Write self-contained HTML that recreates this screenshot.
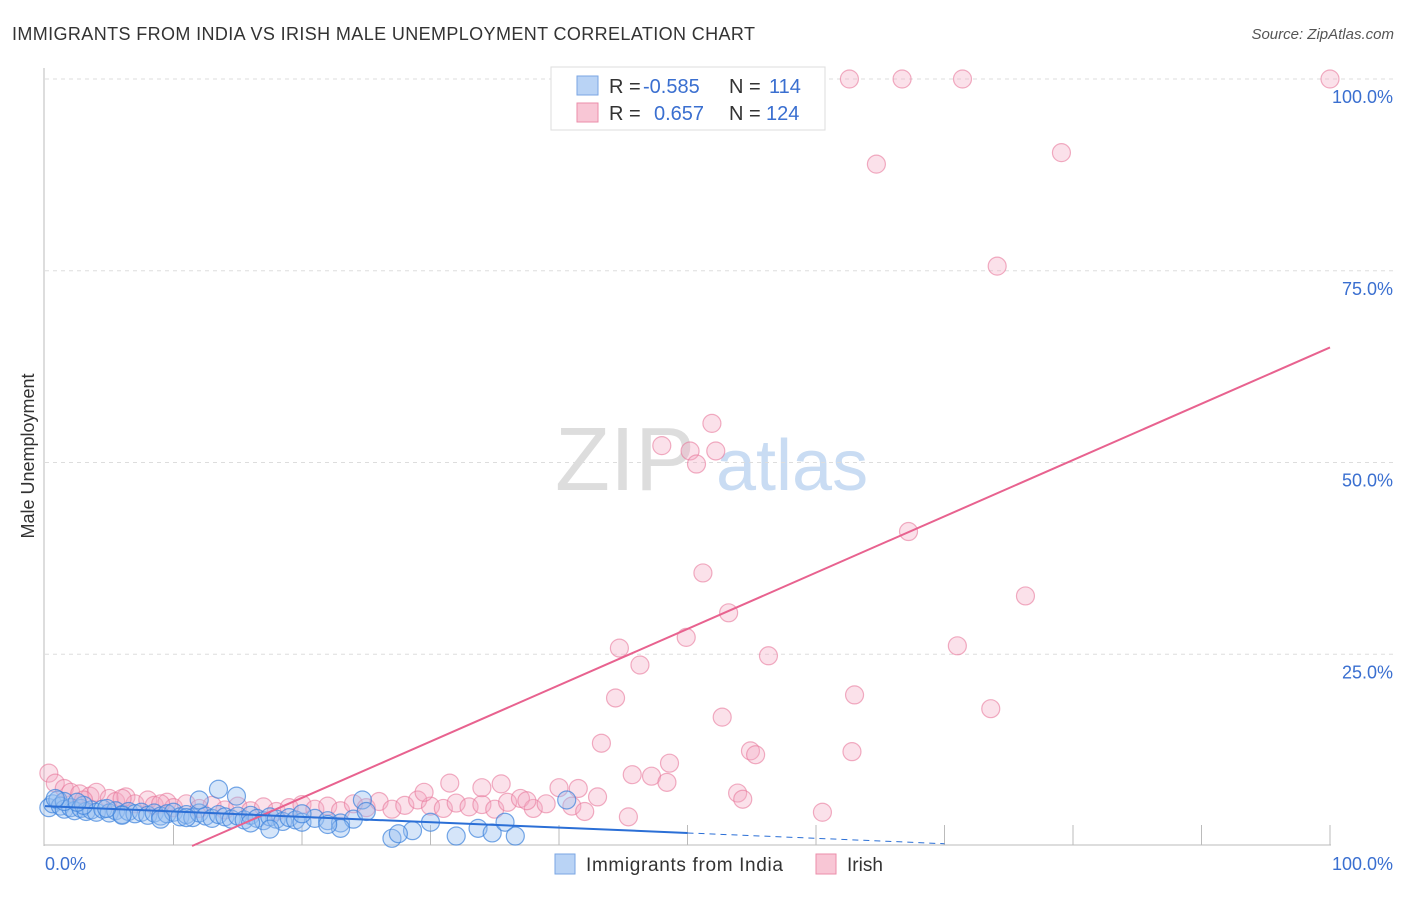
<!DOCTYPE html>
<html><head><meta charset="utf-8"><style>
body{margin:0;background:#fff;font-family:"Liberation Sans",sans-serif;}
svg text{font-family:"Liberation Sans",sans-serif;}
</style></head><body>
<svg id="chart" width="1406" height="892" xmlns="http://www.w3.org/2000/svg">
<text x="12" y="40" font-size="18" fill="#333" textLength="743">IMMIGRANTS FROM INDIA VS IRISH MALE UNEMPLOYMENT CORRELATION CHART</text>
<text x="1394" y="39" font-size="15" fill="#555" font-style="italic" text-anchor="end">Source: ZipAtlas.com</text>
<text x="34" y="456" font-size="18" fill="#333" text-anchor="middle" transform="rotate(-90 34 456)">Male Unemployment</text>
<g>
<text x="555" y="490" font-size="90" fill="#ddd" font-family="Liberation Serif,serif">ZIP</text>
<text x="716" y="490" font-size="72" fill="#c9dcf3">atlas</text>
</g>
<g id="grid"></g>
<g id="marks"></g>
<g id="legend-top">
<rect x="551" y="67" width="274" height="63" fill="#fff" stroke="#ddd"/>
<rect x="577" y="76" width="21" height="19" fill="#b9d3f5" stroke="#7aa6e3"/>
<rect x="577" y="103" width="21" height="19" fill="#f8c6d5" stroke="#eb8eaa"/>
<text x="609" y="93" font-size="20" fill="#333">R =</text>
<text x="643" y="93" font-size="20" fill="#3a6fd0">-0.585</text>
<text x="729" y="93" font-size="20" fill="#333">N =</text>
<text x="769" y="93" font-size="20" fill="#3a6fd0">114</text>
<text x="609" y="120" font-size="20" fill="#333">R =</text>
<text x="654" y="120" font-size="20" fill="#3a6fd0">0.657</text>
<text x="729" y="120" font-size="20" fill="#333">N =</text>
<text x="766" y="120" font-size="20" fill="#3a6fd0">124</text>
</g>
<g>
<rect x="555" y="854" width="20" height="20" fill="#b9d3f5" stroke="#7aa6e3"/>
<text x="586" y="871" font-size="19" fill="#333" textLength="197">Immigrants from India</text>
<rect x="816" y="854" width="20" height="20" fill="#f8c6d5" stroke="#eb8eaa"/>
<text x="847" y="871" font-size="19" fill="#333">Irish</text>
</g>
<text x="45" y="870" font-size="18" fill="#3a6fd0">0.0%</text>
<text x="1393" y="870" font-size="18" fill="#3a6fd0" text-anchor="end">100.0%</text>
</svg>
<script>
const yTicks=[25,50,75,100];
const yTickLabels=["25.0%","50.0%","75.0%","100.0%"];
const blueX=[0.3,0.6,1,1.2,1.5,2,2.3,2.8,3.2,3.6,4,4.5,5,5.5,6,6.5,7,7.5,8,8.5,9,9.5,10,10.5,11,11.5,12,12.5,13,13.5,14,14.5,15,15.5,16,16.5,17,17.5,18,18.5,19,19.5,20,21,22,23,24,24.7,12,14.9,13.5,27,28.6,27.5,30,32,33.7,34.8,35.8,36.6,40.6,23,17.5,1.5,3,6,9,11,16,20,22,25,0.8,2.5,4.8];
const blueY=[5,5.5,6,5.2,4.8,5,4.6,4.9,4.5,4.7,4.4,4.8,4.3,4.6,4.1,4.5,4.2,4.4,4,4.3,3.9,4.2,4.4,3.8,4.1,3.7,4.3,3.9,3.6,4.1,3.8,3.5,3.9,3.4,4,3.6,3.3,3.8,3.5,3.2,3.7,3.4,3.1,3.6,3.3,3,3.5,6,6,6.5,7.4,1,2,1.6,3.1,1.3,2.3,1.7,3.1,1.3,6,2.3,2.2,5.8,5.3,4,3.5,3.7,3,4.2,2.8,4.5,6.2,5.7,4.9];
const pinkX=[62.6,66.7,71.4,100,59.7,64.7,79.1,74.1,51.9,48,50.2,52.2,50.7,67.2,51.2,76.3,53.2,49.9,44.7,71,46.3,56.3,44.4,63,52.7,73.6,43.3,54.9,55.3,62.8,48.6,45.7,47.2,48.4,53.9,54.3,60.5,45.4,0.3,0.8,1.5,2,2.7,3.5,4,5,5.5,6.3,7,8,8.5,9.5,10,11,12,13,14,15,16,17,18,19,20,21,22,23,24,25,26,27,28,29,30,31,32,33,34,35,36,37,38,39,40,41,42,43,29.5,31.5,34,37.5,41.5,35.5,3,6,9];
const pinkY=[100,100,100,100,96.5,88.9,90.4,75.6,55.1,52.2,51.5,51.5,49.8,41,35.6,32.6,30.4,27.2,25.8,26.1,23.6,24.8,19.3,19.7,16.8,17.9,13.4,12.4,11.9,12.3,10.8,9.3,9.1,8.3,6.9,6.1,4.4,3.8,9.5,8.2,7.5,7,6.8,6.5,7,6.2,5.8,6.4,5.5,6,5.3,5.7,5,5.5,4.9,5.3,4.7,5.2,4.6,5.1,4.5,5,5.4,4.8,5.2,4.6,5.5,5,5.8,4.8,5.3,6,5.2,4.9,5.6,5.1,5.4,4.8,5.7,6.2,4.9,5.5,7.6,5.2,4.5,6.4,7,8.2,7.6,5.9,7.5,8.1,6,6.2,5.5];
const pinkTrend=[-8.4,65];
const blueTrend=[5.2,1.7];
const NS="http://www.w3.org/2000/svg";
const X0=45,X1=1330,Y0=846,Y100=79;
const xs=v=>X0+(X1-X0)*v/100;
const ys=v=>Y0-(Y0-Y100)*v/100;
const grid=document.getElementById('grid'),marks=document.getElementById('marks');
function mk(tag,at,parent){const e=document.createElementNS(NS,tag);for(const k in at)e.setAttribute(k,at[k]);parent.appendChild(e);return e;}
yTicks.forEach((t,i)=>{
 const l=mk('line',{x1:X0,x2:1395,y1:ys(t),y2:ys(t),stroke:'#ddd','stroke-dasharray':'4,4'},grid);
 
 
 const tx=mk('text',{x:1393,y:ys(t)+24,'font-size':18,fill:'#3a6fd0','text-anchor':'end'},grid);
 tx.textContent=yTickLabels[i];
 
 
});
let ax=mk('line',{x1:44,x2:44,y1:68,y2:846,stroke:'#bbb'},grid);


ax=mk('line',{x1:44,x2:1331,y1:845,y2:845,stroke:'#bbb'},grid);


for(let k=1;k<=10;k++){const t=mk('line',{x1:xs(k*10),x2:xs(k*10),y1:825,y2:845,stroke:'#bbb'},grid);
 
 }
pinkX.forEach((x,i)=>{const c=mk('circle',{cx:xs(x),cy:ys(pinkY[i]),r:9,fill:'rgba(244,170,195,0.35)',stroke:'rgba(232,120,155,0.6)','stroke-width':1.2},marks);
 
 });
blueX.forEach((x,i)=>{const c=mk('circle',{cx:xs(x),cy:ys(blueY[i]),r:9,fill:'rgba(150,190,240,0.4)',stroke:'rgba(60,130,220,0.7)','stroke-width':1.2},marks);
 
 });
const pAt=x=>pinkTrend[0]+(pinkTrend[1]-pinkTrend[0])*x/100;
const x0=-pinkTrend[0]/(pinkTrend[1]-pinkTrend[0])*100;
let tl=mk('line',{x1:xs(x0),y1:ys(0),x2:xs(100),y2:ys(pAt(100)),stroke:'#e8628f','stroke-width':2},marks);


const bAt=x=>blueTrend[0]+(blueTrend[1]-blueTrend[0])*x/50;
tl=mk('line',{x1:xs(0),y1:ys(bAt(0)),x2:xs(50),y2:ys(bAt(50)),stroke:'#2b6fd6','stroke-width':2},marks);


tl=mk('line',{x1:xs(50),y1:ys(bAt(50)),x2:xs(70),y2:ys(bAt(70)),stroke:'#2b6fd6','stroke-width':1,'stroke-dasharray':'6,5'},marks);


</script>
</body></html>
